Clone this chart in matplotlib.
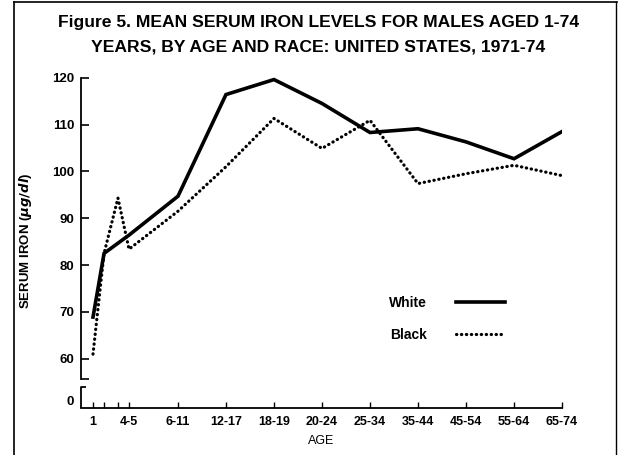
import matplotlib
matplotlib.use("Agg")
import matplotlib.pyplot as plt
from matplotlib.lines import Line2D

# category positions along the age axis (uneven spacing as in the original)
age_pos = {"1": 0.23, "2": 0.46, "3": 0.75, "4-5": 0.98, "6-11": 2, "12-17": 3,
           "18-19": 4, "20-24": 5, "25-34": 6, "35-44": 7, "45-54": 8,
           "55-64": 9, "65-74": 10}
tick_ages = ["1", "2", "3", "4-5", "6-11", "12-17", "18-19", "20-24", "25-34",
             "35-44", "45-54", "55-64", "65-74"]
tick_labels = ["1", "", "", "4-5", "6-11", "12-17", "18-19", "20-24", "25-34",
               "35-44", "45-54", "55-64", "65-74"]

white_ages = ["1", "2", "4-5", "6-11", "12-17", "18-19", "20-24", "25-34",
              "35-44", "45-54", "55-64", "65-74"]
white_iron = [68.9, 82.5, 86.4, 94.7, 116.4, 119.6, 114.5, 108.3, 109.1, 106.3, 102.7, 108.5]

black_ages = ["1", "2", "3", "4-5", "6-11", "12-17", "18-19", "20-24", "25-34",
              "35-44", "45-54", "55-64", "65-74"]
black_iron = [61.0, 82.5, 94.3, 83.4, 91.5, 101.0, 111.3, 104.9, 110.9, 97.4, 99.5, 101.3, 99.1]

y_ticks = [60, 70, 80, 90, 100, 110, 120]

# broken y axis: the "0" sits below the break
y_bottom = 49.5
zero_pos = 51.2
break_top = 54.0
spine_bottom = 55.7

plt.rcParams["font.family"] = ["Liberation Sans", "DejaVu Sans"]
plt.rcParams["font.weight"] = "bold"

fig = plt.figure(figsize=(6.18, 4.55), dpi=100)
ax = fig.add_axes([81 / 618, 47 / 455, 481 / 618, 335 / 455])

ax.plot([age_pos[a] for a in white_ages], white_iron, color="black", lw=2.6,
        solid_joinstyle="miter", label="White")
ax.plot([age_pos[a] for a in black_ages], black_iron, color="black", lw=2.3,
        linestyle=(0, (0.1, 1.45)), dash_capstyle="round", label="Black")

x_left = -0.02
ax.set_xlim(x_left, 10)
ax.set_ylim(y_bottom, 121)

for s in ["top", "right"]:
    ax.spines[s].set_visible(False)
ax.spines["left"].set_bounds(spine_bottom, 120)
ax.spines["left"].set_linewidth(1.3)
ax.spines["bottom"].set_linewidth(1.3)
ax.spines["bottom"].set_bounds(x_left, 10)

# small bracket below the break
ax.plot([x_left, x_left, x_left + 0.1], [y_bottom, break_top, break_top],
        color="black", lw=1.3, clip_on=False, solid_capstyle="butt")

ax.set_yticks([zero_pos, spine_bottom] + y_ticks)
ax.set_yticklabels(["0", ""] + [str(v) for v in y_ticks])
ax.yaxis.get_major_ticks()[0].tick1line.set_visible(False)
ax.tick_params(axis="y", direction="in", length=6, width=1.2, labelsize=9.5, pad=5)

ax.set_xticks([age_pos[a] for a in tick_ages])
ax.set_xticklabels(tick_labels)
ax.tick_params(axis="x", direction="in", length=4, width=1.0, labelsize=9, pad=6)

ax.set_xlabel("AGE", fontsize=9, fontweight="normal", labelpad=5)
ax.set_ylabel("SERUM IRON ($\\mu g/dl$)", fontsize=9.5, fontweight="bold", labelpad=13)

ax.legend(loc="center left", bbox_to_anchor=(389 / 618, 1 - 319 / 455),
          bbox_transform=fig.transFigure, frameon=False, markerfirst=False,
          handlelength=3.5, handletextpad=2.1, labelspacing=1.3,
          borderpad=0, borderaxespad=0, prop={"size": 10, "weight": "bold"})

fig.text(0.515, 1 - 23 / 455, "Figure 5. MEAN SERUM IRON LEVELS FOR MALES AGED 1-74",
         ha="center", va="center", fontsize=12.6, fontweight="bold")
fig.text(0.515, 1 - 47 / 455, "YEARS, BY AGE AND RACE: UNITED STATES, 1971-74",
         ha="center", va="center", fontsize=12.6, fontweight="bold")

# page frame around the figure
fig.add_artist(Line2D([14 / 618, 14 / 618], [0, 1 - 2 / 455], color="black", lw=1.2))
fig.add_artist(Line2D([14 / 618, 617 / 618], [1 - 2 / 455, 1 - 2 / 455], color="black", lw=1.2))
fig.add_artist(Line2D([616 / 618, 616 / 618], [0, 1 - 2 / 455], color="black", lw=1.0))

fig.savefig("out.png", dpi=100)
